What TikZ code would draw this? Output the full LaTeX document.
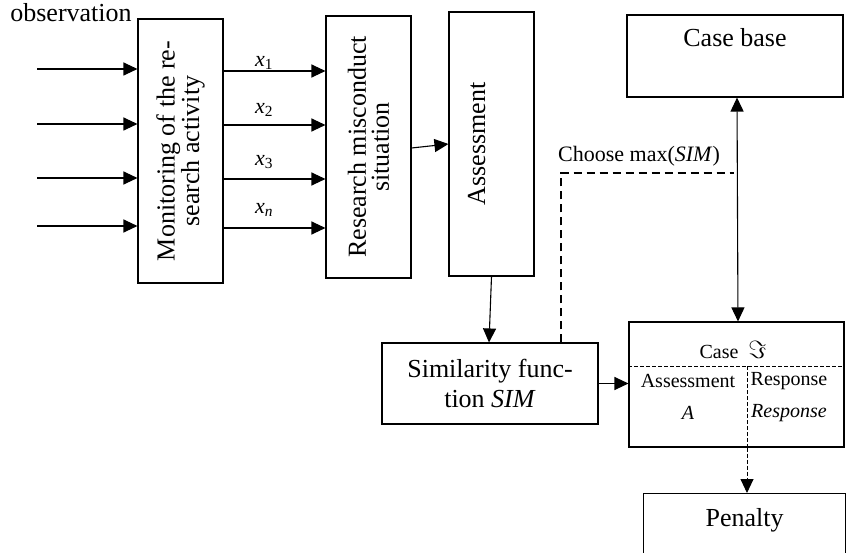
\documentclass[tikz,border=0pt]{standalone}
\usepackage{fontspec}
\setmainfont{Liberation Serif}
\usetikzlibrary{arrows.meta,calc}
\begin{document}
\begin{tikzpicture}[x=1pt,y=-1pt,
  box/.style={draw, line width=1.1pt, inner sep=0pt},
  arr/.style={line width=1.1pt, -{Triangle[length=14pt,width=13pt]}},
  dblarr/.style={line width=1.1pt, {Triangle[length=14pt,width=13pt]}-{Triangle[length=14pt,width=13pt]}},
  big/.style={font=\fontsize{26}{23}\selectfont},
  small/.style={font=\fontsize{20}{22}\selectfont, inner sep=0pt},
  xlab/.style={font=\fontsize{22}{24}\selectfont, inner sep=0pt},
  finedash/.style={line width=0.9pt, dash pattern=on 4pt off 2pt},
  boldash/.style={line width=2pt, dash pattern=on 8pt off 5pt},
]
\useasboundingbox (0,0) rectangle (846,553);
\clip (0,0) rectangle (846,553);

% boxes
\node[box, big, rotate=90, minimum width=264, minimum height=85, align=center] (mon) at (180.5,151) {Monitoring of the re-\\search activity};
\node[box, big, rotate=90, minimum width=262, minimum height=85, align=center] (res) at (368.5,147) {Research misconduct\\situation};
\node[box, big, rotate=90, minimum width=264, minimum height=85, text height=18, text depth=31] (ass) at (491.5,144) {Assessment};
\node[box, font=\fontsize{26}{30}\selectfont, minimum width=216, minimum height=81, align=center] (sim) at (490,383.5) {Similarity func-\\tion \textit{SIM}};
\node[box, big, minimum width=216, minimum height=82, text height=18, text depth=36] (cb) at (735,56) {Case base};
\node[box, minimum width=215, minimum height=125] (case) at (736.5,384.5) {};
\node[box, big, anchor=north west, minimum width=202, minimum height=120, text height=18, text depth=72] (pen) at (643,493) {Penalty};

% texts
\node[big, inner sep=0pt] (obs) at (71,13) {observation};
\node[xlab] (x1) at (264,63) {\textit{x}\textsubscript{1}};
\node[xlab] (x2) at (264,110) {\textit{x}\textsubscript{2}};
\node[xlab] (x3) at (264,162) {\textit{x}\textsubscript{3}};
\node[xlab] (xn) at (264,210) {\textit{x}\textsubscript{\textit{n}}};
\node[font=\fontsize{22}{24}\selectfont, inner sep=0pt] (cm) at (639,156) {Choose max(\textit{SIM})};
\node[small] (casel) at (733,350) {Case\enspace{\fontsize{24}{24}\selectfont$\Im$}};
\node[small] (asl) at (688,381) {Assessment};
\node[small] (al) at (688,413) {\textit{A}};
\node[small] (rl) at (789,381) {Response};
\node[small] (rl2) at (789,413) {\textit{Response}};

% coordinates
\coordinate (i1) at (37,69);
\coordinate (i2) at (37,124);
\coordinate (i3) at (37,178);
\coordinate (i4) at (37,226);
\coordinate (o1) at (0,71);
\coordinate (o2) at (0,125);
\coordinate (o3) at (0,179);
\coordinate (o4) at (0,228);
\coordinate (r1) at (0,148);
\coordinate (r2) at (0,144);
\coordinate (d1) at (561,173);
\coordinate (d2) at (734,173);
\coordinate (hl) at (0,366);
\coordinate (dv) at (747,366);

% input arrows
\foreach \i in {i1,i2,i3,i4} \draw[arr] (\i) -- (\i -| mon.north);
% outputs
\foreach \o in {o1,o2,o3,o4} \draw[arr] (mon.south |- \o) -- (res.north |- \o);
\draw[arr] (res.south |- r1) -- (ass.north |- r2);
\draw[arr] (ass.west) -- ([xshift=-1pt]sim.north);
\draw[arr] (sim.east) -- (case.west |- sim.east);
\draw[dblarr] ([xshift=2pt]cb.south) -- ([xshift=1.5pt]case.north);
\draw[boldash] (sim.north -| d1) -- (d1) -- (d2);
% case internals
\draw[finedash] (case.west |- hl) -- (case.east |- hl);
\draw[finedash] (dv) -- (dv |- case.south);
\draw[finedash, -{Triangle[length=14pt,width=13pt]}] (dv |- case.south) -- (pen.north -| dv);
\end{tikzpicture}
\end{document}
